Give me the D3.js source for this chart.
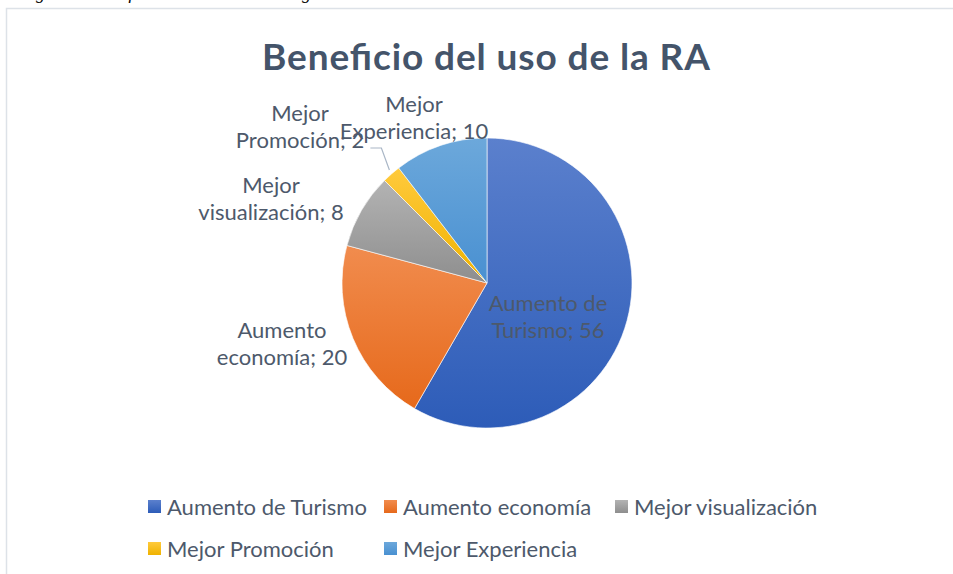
<!DOCTYPE html>
<html>
  <head>
    <meta charset="utf-8">
    <script src="https://d3js.org/d3.v7.min.js"></script>
    <style>
      body { margin: 0; background: #fff; }
      svg { display: block; }
      text { font-family: Lato, "Open Sans", sans-serif; }
    </style>
  </head>
  <body>
    <div id="chart"></div>

    <script>
      // data
      const categories = ["Aumento de Turismo", "Aumento economía", "Mejor visualización", "Mejor Promoción", "Mejor Experiencia"];
      const values = [56, 20, 8, 2, 10];
      const colors = [
        ["#5b80cd", "#2d5cb8"],
        ["#f18c4e", "#e6691b"],
        ["#b3b3b3", "#8e8e8e"],
        ["#ffca3c", "#efb200"],
        ["#6ca8db", "#4990d1"]
      ];

      const width = 953;
      const height = 574;
      const cx = 487, cy = 283, radius = 145;
      const textColor = "#4d596b";

      // where excel put each data label, relative to the pie centre
      const labelAt = [[61, 28], [-205, 55], [-216, -90], [-187, -162], [-73, -171]];

      const svg = d3.select("#chart")
        .append("svg")
        .attr("width", width)
        .attr("height", height);

      // caption of the figure, cut off at the top of the page
      svg.append("text")
        .attr("x", 20)
        .attr("y", -1)
        .style("font-family", "'Liberation Serif', serif")
        .style("font-style", "italic")
        .style("font-size", "18px")
        .attr("fill", "#000")
        .text("Figura 9. Beneficio del uso de la RA según los encuestados");

      // chart frame
      svg.append("rect")
        .attr("x", 6.5)
        .attr("y", 8.5)
        .attr("width", 1000)
        .attr("height", 700)
        .attr("fill", "#fff")
        .attr("stroke", "#dde2e8")
        .attr("stroke-width", 1.5);

      svg.append("text")
        .attr("x", 486)
        .attr("y", 70)
        .attr("text-anchor", "middle")
        .attr("textLength", 448)
        .attr("lengthAdjust", "spacing")
        .style("font-size", "37px")
        .style("font-weight", "bold")
        .attr("fill", "#44546a")
        .text("Beneficio del uso de la RA");

      const defs = svg.append("defs");
      colors.forEach((c, i) => {
        const g = defs.append("linearGradient")
          .attr("id", "grad" + i)
          .attr("x1", 0).attr("y1", 0)
          .attr("x2", 0).attr("y2", 1);
        g.append("stop").attr("offset", "0%").attr("stop-color", c[0]);
        g.append("stop").attr("offset", "100%").attr("stop-color", c[1]);
      });

      const pie = d3.pie().sort(null).value(d => d);
      const arcs = pie(values);
      const arc = d3.arc().innerRadius(0).outerRadius(radius);

      const chart = svg.append("g")
        .attr("transform", `translate(${cx}, ${cy})`);

      chart.selectAll(".slice")
        .data(arcs)
        .enter()
        .append("path")
        .attr("class", "slice")
        .attr("d", arc)
        .attr("fill", (d, i) => `url(#grad${i})`)
        .attr("stroke", "#fff")
        .attr("stroke-width", 0.6);

      // leader line for the small slice
      const small = arcs[3];
      const edge = d3.arc().innerRadius(radius).outerRadius(radius).centroid(small);
      chart.append("polyline")
        .attr("points", [[edge[0] - 2, edge[1] - 4], [edge[0] - 10, edge[1] - 26], [edge[0] - 21, edge[1] - 26]].map(p => p.join(",")).join(" "))
        .attr("fill", "none")
        .attr("stroke", "#a9b6c6")
        .attr("stroke-width", 1.2);

      // data labels: last word of the name goes on the 2nd line with the value
      arcs.forEach((d, i) => {
        const words = categories[i].split(" ");
        const last = words.pop();
        const lines = [words.join(" "), `${last}; ${values[i]}`];
        const t = chart.append("text")
          .attr("text-anchor", "middle")
          .attr("fill", textColor)
          .style("font-size", "22px")
          .attr("transform", `translate(${labelAt[i][0]}, ${labelAt[i][1]})`);
        lines.forEach((l, k) => {
          t.append("tspan")
            .attr("x", 0)
            .attr("y", k * 27)
            .text(l);
        });
      });

      // legend
      const legendX = [148, 384, 615];
      const legend = svg.append("g");
      categories.forEach((c, i) => {
        const x = legendX[i % 3];
        const y = 515 + Math.floor(i / 3) * 42;
        legend.append("rect")
          .attr("x", x)
          .attr("y", y - 15)
          .attr("width", 13)
          .attr("height", 13)
          .attr("fill", `url(#grad${i})`);
        legend.append("text")
          .attr("x", x + 19)
          .attr("y", y)
          .attr("fill", textColor)
          .style("font-size", "22px")
          .text(c);
      });
    </script>
  </body>
</html>
